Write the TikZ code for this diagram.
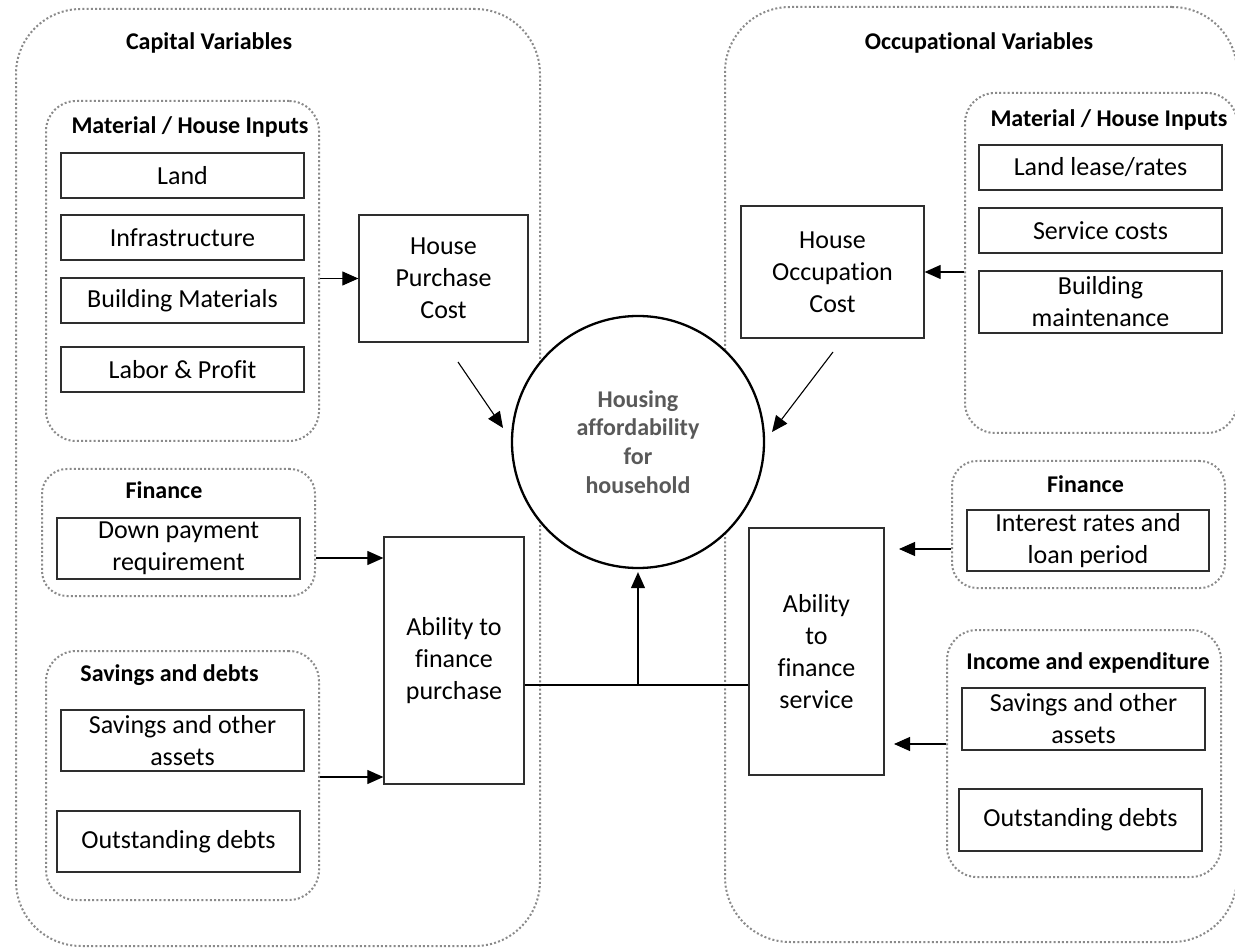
\documentclass[tikz,border=0pt]{standalone}
\usepackage{fontspec}
\setmainfont[Ligatures=NoCommon]{Carlito}
\usetikzlibrary{arrows.meta}

\definecolor{dotgray}{HTML}{8A8A8A}
\definecolor{edgegray}{HTML}{2E2E2E}
\definecolor{hubtext}{HTML}{595959}

\begin{document}
\begin{tikzpicture}[
  x=1pt, y=-1pt,
  bodytext/.style={font=\fontsize{26}{32}\selectfont},
  headtext/.style={font=\fontsize{24}{29}\selectfont\bfseries, anchor=base, inner sep=0pt},
  panel/.style={draw=dotgray, line width=2pt, dash pattern=on 2pt off 2.2pt,
                rounded corners=65pt, inner sep=0pt},
  cluster/.style={draw=dotgray, line width=2pt, dash pattern=on 2pt off 2.2pt,
                  rounded corners=30pt, inner sep=0pt},
  itembox/.style={bodytext, draw=edgegray, line width=1.3pt, inner sep=0pt,
                  align=center, fill=white},
  hub/.style={circle, draw=black, line width=2.3pt, fill=white, inner sep=0pt,
              minimum size=252pt, align=center, text=hubtext,
              font=\fontsize{24}{28.7}\selectfont\bfseries},
  arr/.style={draw=black, line width=1.1pt, -{Triangle[length=16pt,width=14pt]}},
  link/.style={draw=black, line width=1.1pt}
]
\useasboundingbox (0,0) rectangle (1235,949);

% ---- outer panels ----
\node[panel, minimum width=524pt, minimum height=937pt] (capV) at (278,477.5) {};
\node[panel, minimum width=512pt, minimum height=935pt] (occV) at (981,474.5) {};
\node[headtext] (capT) at (209,50) {Capital Variables};
\node[headtext] (occT) at (979,49.5) {Occupational Variables};

% ---- clusters, capital side ----
\node[cluster, minimum width=273pt, minimum height=340pt] (matL) at (182.5,271) {};
\node[cluster, minimum width=273pt, minimum height=127pt, rounded corners=25pt] (finL) at (178.5,532.5) {};
\node[cluster, minimum width=273pt, minimum height=249pt] (savL) at (182.5,775.5) {};
\node[headtext] (matLT) at (190,134) {Material / House Inputs};
\node[headtext] (finLT) at (164,499) {Finance};
\node[headtext] (savLT) at (169.5,681) {Savings and debts};

% ---- clusters, occupational side ----
\node[cluster, minimum width=272pt, minimum height=340pt] (matR) at (1101,263) {};
\node[cluster, minimum width=273pt, minimum height=127pt, rounded corners=25pt] (finR) at (1088.5,524.5) {};
\node[cluster, minimum width=274pt, minimum height=247pt] (incR) at (1084,753.5) {};
\node[headtext] (matRT) at (1109,127) {Material / House Inputs};
\node[headtext] (finRT) at (1085.5,493) {Finance};
\node[headtext] (incRT) at (1088,669) {Income and expenditure};

% ---- input items, capital side ----
\node[itembox, minimum width=243pt, minimum height=45pt] (land)  at (182.5,175.5) {Land};
\node[itembox, minimum width=243pt, minimum height=45pt] (infra) at (182.5,237.5) {Infrastructure};
\node[itembox, minimum width=243pt, minimum height=45pt] (bmat)  at (182.5,300.5) {Building Materials};
\node[itembox, minimum width=243pt, minimum height=45pt] (labor) at (182.5,369.5) {Labor \& Profit};
\node[itembox, minimum width=243pt, minimum height=61pt] (dp)    at (178.5,548.5) {Down payment\\requirement};
\node[itembox, minimum width=243pt, minimum height=61pt] (savA)  at (182.5,740.5) {Savings and other\\assets};
\node[itembox, minimum width=243pt, minimum height=61pt] (outL)  at (178.5,841.5) {Outstanding debts};

% ---- input items, occupational side ----
\node[itembox, minimum width=243pt, minimum height=45pt] (lease)  at (1100.5,167.5) {Land lease/rates};
\node[itembox, minimum width=243pt, minimum height=45pt] (serv)   at (1100.5,230.5) {Service costs};
\node[itembox, minimum width=243pt, minimum height=62pt] (bmaint) at (1100.5,302) {Building\\maintenance};
\node[itembox, minimum width=242pt, minimum height=61pt] (irate)  at (1088,540.5) {Interest rates and\\loan period};
\node[itembox, minimum width=243pt, minimum height=62pt] (savR)   at (1083.5,719) {Savings and other\\assets};
\node[itembox, minimum width=243pt, minimum height=62pt] (outR)   at (1080.5,820) {Outstanding debts};

% ---- intermediate blocks ----
\node[itembox, minimum width=169pt, minimum height=127pt] (hpc) at (443.5,278.5) {House\\Purchase\\Cost};
\node[itembox, minimum width=183pt, minimum height=132pt] (hoc) at (832.5,272) {House\\Occupation\\Cost};
\node[itembox, minimum width=140pt, minimum height=247pt] (afp) at (454,660.5) {Ability to\\finance\\purchase};
\node[itembox, minimum width=135pt, minimum height=247pt] (afs) at (816.5,651.5) {Ability\\to\\finance\\service};

% ---- central outcome ----
\node[hub] (circ) at (638,442) {Housing\\affordability\\for\\household};

% ---- connector rows and free ends ----
\coordinate (rowA) at (0,558);
\coordinate (rowB) at (0,777);
\coordinate (rowC) at (0,685);
\coordinate (rowD) at (0,549);
\coordinate (rowE) at (0,744);
\coordinate (finRtip) at (899,549);
\coordinate (incRtip) at (894,744);
\coordinate (hpcOut) at (458,362);
\coordinate (hpcIn) at (503,428);
\coordinate (hocOut) at (833,352);
\coordinate (hocIn) at (772,432);

% ---- connectors ----
\draw[arr] (matL.east |- hpc.west) -- (hpc.west);
\draw[arr] (matR.west |- hoc.east) -- (hoc.east);
\draw[arr] (finL.east |- rowA) -- (afp.west |- rowA);
\draw[arr] (savL.east |- rowB) -- (afp.west |- rowB);
\draw[arr] (finR.west |- rowD) -- (finRtip);
\draw[arr] (incR.west |- rowE) -- (incRtip);
\draw[arr] (hpcOut) -- (hpcIn);
\draw[arr] (hocOut) -- (hocIn);
\draw[link] (afp.east |- rowC) -- (afs.west |- rowC);
\draw[arr, shorten >=3pt] (circ.south |- rowC) -- (circ.south);

\end{tikzpicture}
\end{document}
